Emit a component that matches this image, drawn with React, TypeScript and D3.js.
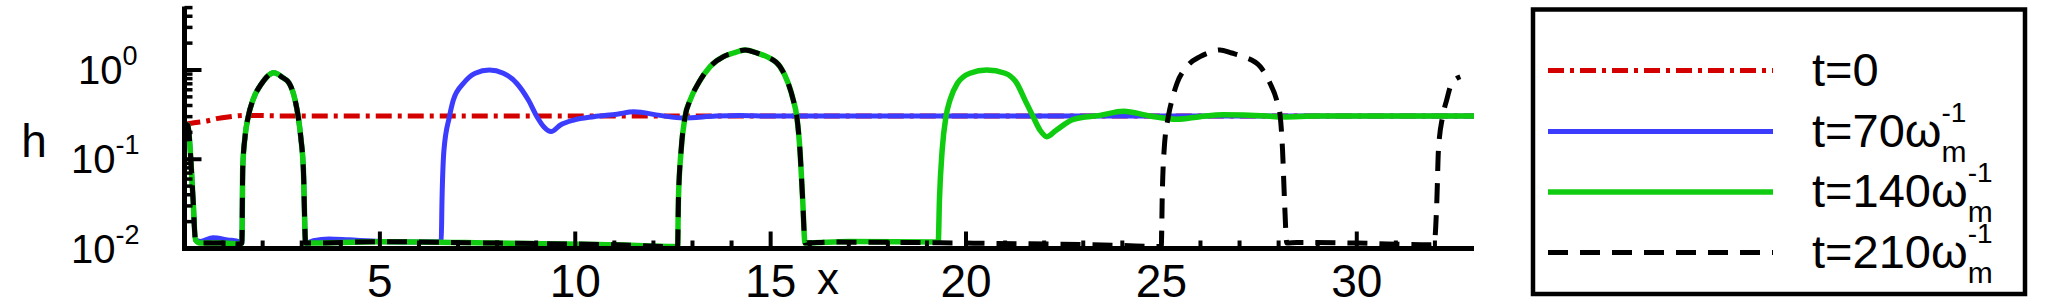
import React from 'react';
import * as d3 from 'd3';

// ---------- data ----------
const xTicks = [5, 10, 15, 20, 25, 30];
const yTicks = [0.01, 0.1, 1];
const yTickBase = ['10', '10', '10'];
const yTickExp = ['-2', '-1', '0'];
const legendMain = ['t=0', 't=70ω', 't=140ω', 't=210ω'];
const legendSub = ['', 'm', 'm', 'm'];
const legendSup = ['', '-1', '-1', '-1'];

// t = 0
const t0X = [0, 0.3, 0.6, 0.82, 1.16, 1.6, 2.5, 33];
const t0H = [0.245, 0.258, 0.27, 0.285, 0.3, 0.31, 0.306, 0.305];

// t = 70
const t70X = [0, 0.09, 0.15, 0.22, 0.28, 0.4, 0.73, 1.1, 1.42,
  1.47, 1.49, 1.55, 1.63, 1.75, 1.98, 2.1, 2.29, 2.5, 2.68, 2.83, 2.91, 2.98, 3.04, 3.1,
  3.3, 3.7, 4.2, 5.0, 6.0, 6.5, 6.57, 6.59, 6.64, 6.78, 6.88, 7.14, 7.44, 7.8, 8.16, 8.5, 8.8, 9.02,
  9.2, 9.38, 9.62, 9.96, 10.47, 11.07, 11.5, 12.17, 12.76, 13.6, 14.2, 15, 33];
const t70H = [0.25, 0.24, 0.12, 0.035, 0.0125, 0.012, 0.0132, 0.0125, 0.0118,
  0.0115, 0.08, 0.18, 0.3, 0.46, 0.71, 0.83, 0.93, 0.83, 0.71, 0.46, 0.3, 0.17, 0.082, 0.0115,
  0.0122, 0.0128, 0.0125, 0.012, 0.0118, 0.0118, 0.0122, 0.035, 0.127, 0.3, 0.46, 0.71, 0.92, 1.0, 0.92, 0.71, 0.46, 0.3,
  0.23, 0.204, 0.242, 0.275, 0.3, 0.32, 0.34, 0.31, 0.29, 0.305, 0.31, 0.305, 0.305];

// t = 140
const t140X = [0, 0.09, 0.15, 0.22, 0.28, 0.4, 1.0, 1.42,
  1.47, 1.49, 1.55, 1.63, 1.75, 1.98, 2.1, 2.29, 2.5, 2.68, 2.83, 2.91, 2.98, 3.04, 3.1,
  5.0, 8.0, 11.0, 12.55,
  12.62, 12.64, 12.71, 12.81, 12.94, 13.15, 13.45, 13.79, 14.05, 14.35, 14.65, 14.9, 15.24, 15.45, 15.58, 15.67, 15.75, 15.82, 15.88,
  17, 19.2,
  19.29, 19.32, 19.39, 19.49, 19.59, 19.78, 20.1, 20.53, 21.0, 21.3, 21.51, 21.71, 21.9, 22.07, 22.3, 22.75, 23.43, 24.03, 24.71, 25.4, 25.99, 26.58, 27.7, 28.1, 29, 33];
const t140H = [0.25, 0.24, 0.12, 0.035, 0.0125, 0.0115, 0.0115, 0.0112,
  0.0115, 0.08, 0.18, 0.3, 0.46, 0.71, 0.83, 0.93, 0.83, 0.71, 0.46, 0.3, 0.17, 0.082, 0.0115,
  0.0119, 0.0115, 0.011, 0.0105,
  0.0105, 0.035, 0.127, 0.3, 0.46, 0.71, 1.09, 1.41, 1.55, 1.68, 1.55, 1.41, 1.09, 0.71, 0.46, 0.3, 0.127, 0.035, 0.0115,
  0.012, 0.0118,
  0.012, 0.035, 0.127, 0.305, 0.46, 0.71, 0.92, 1.0, 0.92, 0.71, 0.46, 0.305, 0.21, 0.179, 0.21, 0.28, 0.31, 0.345, 0.305, 0.28, 0.3, 0.315, 0.305, 0.298, 0.305, 0.305];

// t = 210
const t210X = [0, 0.09, 0.15, 0.22, 0.28, 0.4, 1.0, 1.42,
  1.47, 1.49, 1.55, 1.63, 1.75, 1.98, 2.1, 2.29, 2.5, 2.68, 2.83, 2.91, 2.98, 3.04, 3.1,
  5.0, 8.0, 11.0, 12.55,
  12.62, 12.64, 12.71, 12.81, 12.94, 13.15, 13.45, 13.79, 14.05, 14.35, 14.65, 14.9, 15.24, 15.45, 15.58, 15.67, 15.75, 15.82, 15.88,
  16.5, 20, 24, 24.95,
  25.0, 25.02, 25.07, 25.18, 25.27, 25.4, 25.65, 25.99, 26.2, 26.5, 26.8, 27.1, 27.53, 27.78, 27.95, 28.04, 28.1, 28.15, 28.21,
  28.47, 30, 31.9, 31.98, 32.05, 32.09, 32.2, 32.3, 32.43, 32.65];
const t210H = [0.25, 0.24, 0.12, 0.035, 0.0125, 0.0115, 0.0115, 0.0112,
  0.0115, 0.08, 0.18, 0.3, 0.46, 0.71, 0.83, 0.93, 0.83, 0.71, 0.46, 0.3, 0.17, 0.082, 0.0115,
  0.0119, 0.0115, 0.011, 0.0105,
  0.0105, 0.035, 0.127, 0.3, 0.46, 0.71, 1.09, 1.41, 1.55, 1.68, 1.55, 1.41, 1.09, 0.71, 0.46, 0.3, 0.127, 0.035, 0.0115,
  0.0118, 0.0115, 0.0108, 0.0105,
  0.011, 0.035, 0.127, 0.305, 0.46, 0.71, 1.09, 1.41, 1.55, 1.68, 1.55, 1.41, 1.09, 0.71, 0.46, 0.305, 0.127, 0.035, 0.0115,
  0.0117, 0.0115, 0.011, 0.0112, 0.035, 0.127, 0.305, 0.46, 0.71, 0.84];

const FONT = '"Liberation Sans", Arial, Helvetica, sans-serif';

export default function App() {
  const x = d3.scaleLinear().domain([0, 33]).range([184.5, 1474]);
  const y = d3.scaleLog().domain([0.01, 5]).range([248.5, 7.6]);
  const line = d3.line<[number, number]>()
    .x(d => x(d[0]))
    .y(d => y(d[1]))
    .curve(d3.curveMonotoneX);

  const series = [
    { xs: t0X, hs: t0H, color: '#d40000', dash: '16 6 4 6', w: 5 },
    { xs: t70X, hs: t70H, color: '#3c3cff', dash: null, w: 5 },
    { xs: t140X, hs: t140H, color: '#10cc10', dash: null, w: 5.5 },
    { xs: t210X, hs: t210H, color: '#000000', dash: '20 12', w: 5 },
  ];

  const xMinor = d3.range(1, 33).filter(v => v % 5 !== 0);
  const yMinor: number[] = [];
  [0.01, 0.1].forEach(dec => { for (let k = 2; k <= 9; k++) yMinor.push(dec * k); });
  [2, 3, 4, 5].forEach(k => yMinor.push(k));

  const y0 = y(0.01);
  const x0 = x(0);
  const legendRows = [70.5, 131.5, 192, 252.5];

  return (
    <svg width={2048} height={302} style={{ position: 'absolute', left: 0, top: 0, background: '#fff' }}
      fontFamily={FONT}>
      <rect x={0} y={0} width={2048} height={302} fill="#fff" />
      {/* data lines */}
      {series.map((s, i) => (
        <path key={i}
          d={line(d3.zip(s.xs, s.hs) as [number, number][]) || ''}
          fill="none" stroke={s.color} strokeWidth={s.w}
          strokeDasharray={s.dash || undefined}
          strokeLinejoin="round" />
      ))}
      {/* axes */}
      <line x1={x0 - 2.5} x2={x(33)} y1={y0} y2={y0} stroke="#000" strokeWidth={5} />
      <line x1={x0} x2={x0} y1={y0 + 2.5} y2={y(5) - 1} stroke="#000" strokeWidth={5} />
      {xTicks.map(v => (
        <line key={'xM' + v} x1={x(v)} x2={x(v)} y1={y0} y2={y0 - 17} stroke="#000" strokeWidth={4} />
      ))}
      {xMinor.map(v => (
        <line key={'xm' + v} x1={x(v)} x2={x(v)} y1={y0} y2={y0 - 8} stroke="#000" strokeWidth={4} />
      ))}
      {yTicks.map(v => (
        <line key={'yM' + v} x1={x0} x2={x0 + 17} y1={y(v)} y2={y(v)} stroke="#000" strokeWidth={4} />
      ))}
      {yMinor.map(v => (
        <line key={'ym' + v} x1={x0} x2={x0 + 8} y1={y(v)} y2={y(v)} stroke="#000" strokeWidth={3.5} />
      ))}
      {/* x tick labels */}
      {xTicks.map(v => (
        <text key={'xl' + v} x={x(v)} y={297} fontSize={46} textAnchor="middle" fill="#000">{v}</text>
      ))}
      <text x={828} y={294} fontSize={44} textAnchor="middle" fill="#000">x</text>
      {/* y tick labels */}
      {yTicks.map((v, i) => (
        <text key={'yl' + v} x={yTickExp[i] === '0' ? 78 : 71} y={y(v) + 14} fontSize={40}
          fill="#000">
          {yTickBase[i]}
          <tspan fontSize={27} dy={-19}>{yTickExp[i]}</tspan>
        </text>
      ))}
      <text x={34} y={157} fontSize={46} textAnchor="middle" fill="#000">h</text>
      {/* legend */}
      <rect x={1533} y={9.5} width={492} height={284.5} fill="none" stroke="#000" strokeWidth={4.5} />
      {series.map((s, i) => (
        <g key={'lg' + i}>
          <line x1={1548} x2={1773} y1={legendRows[i]} y2={legendRows[i]} stroke={s.color}
            strokeWidth={s.w} strokeDasharray={s.dash || undefined} />
          <text x={1812} y={legendRows[i] + 15} fontSize={47} fill="#000">
            {legendMain[i]}
            {legendSub[i] && <tspan fontSize={30} dy={15}>{legendSub[i]}</tspan>}
            {legendSup[i] && <tspan fontSize={28} dx={-25} dy={-40}>{legendSup[i]}</tspan>}
          </text>
        </g>
      ))}
    </svg>
  );
}
